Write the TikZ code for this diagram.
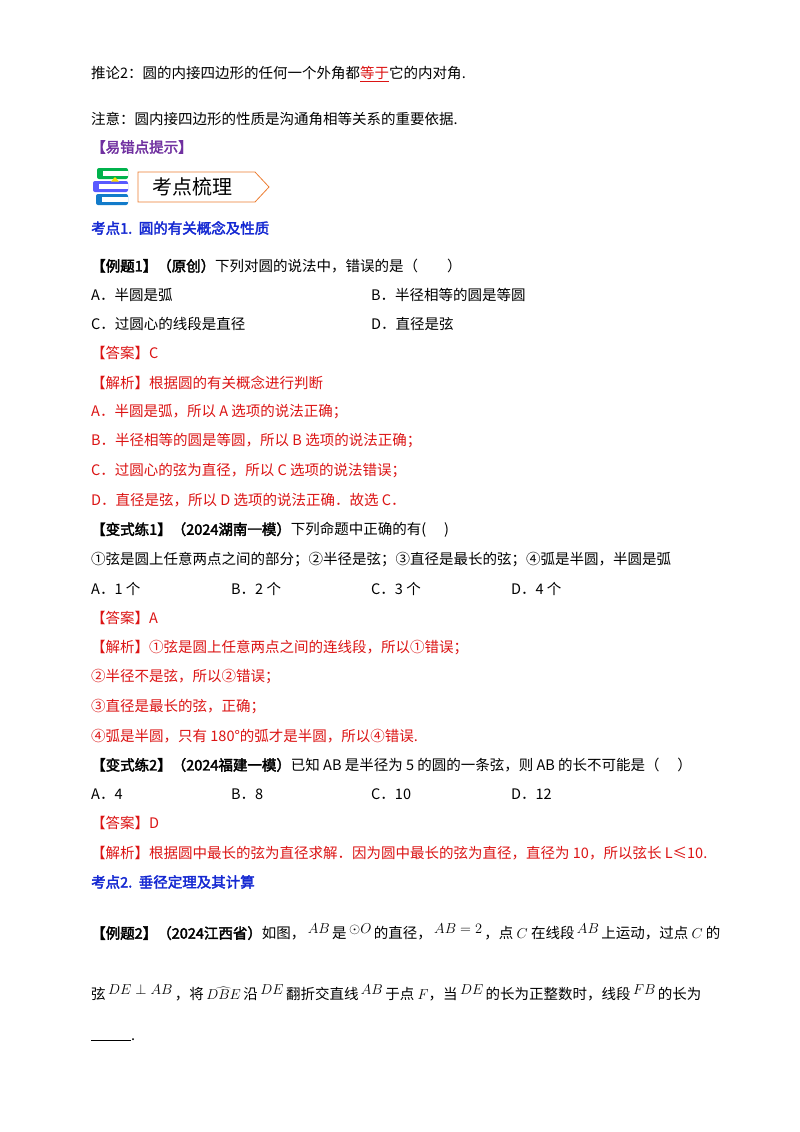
\documentclass[tikz,border=0pt]{standalone}
\usepackage{fontspec}
\setmainfont{Noto Sans CJK SC}[AutoFakeBold=2.5]
\definecolor{myred}{RGB}{220,20,20}
\definecolor{myblue}{RGB}{20,40,210}
\definecolor{mypurple}{RGB}{112,48,160}
\definecolor{myorange}{RGB}{237,125,49}
\newcommand{\mth}[1]{\,\raisebox{5bp}{$#1$}\,}
\begin{document}
\begin{tikzpicture}[x=1bp,y=-1bp,
 t/.style={anchor=west,inner sep=0,font=\fontsize{14.5bp}{17bp}\selectfont},
 r/.style={t,text=myred},
 bl/.style={t,text=myblue,font=\fontsize{14.5bp}{17bp}\selectfont\bfseries},
 book/.style={rounded corners=2,line width=0}]
\useasboundingbox (0,0) rectangle (800,1132);
\fill[white] (0,0) rectangle (800,1132);
\node[t] (l1) at (91,74) {推论2：圆的内接四边形的任何一个外角都\textcolor{myred}{\underline{等于}}它的内对角.};
\node[t] (l2) at (91,119) {注意：圆内接四边形的性质是沟通角相等关系的重要依据.};
\node[t,text=mypurple,font=\fontsize{14.5bp}{17bp}\selectfont\bfseries] (l3) at (91,147) {【易错点提示】};
% icon
\fill[book,fill=teal!60!green] (97,168) rectangle (128,179);
\fill[white] (103,171) rectangle (128,176);
\fill[book,fill=blue!65] (93,181) rectangle (128,192);
\fill[white] (99,184) rectangle (128,189);
\fill[book,fill=cyan!60!blue] (96,194) rectangle (128,205);
\fill[white] (102,197) rectangle (128,202);
\fill[yellow!80!orange] (115,177) -- (119,181.5) -- (111,181.5) -- cycle;
\draw[myorange,line width=0.8] (138,172) -- (255,172) -- (269,187) -- (255,202) -- (138,202) -- cycle;
\node[t,font=\fontsize{20bp}{22bp}\selectfont] (hd) at (152,187) {考点梳理};
\node[bl] (k1) at (91,228) {考点1.\ \ 圆的有关概念及性质};
\node[t] (e1) at (91,266) {\textbf{【例题1】（原创）}下列对圆的说法中，错误的是（\qquad ）};
\node[t] (e1a) at (91,295) {A．半圆是弧};
\node[t] (e1b) at (371,295) {B．半径相等的圆是等圆};
\node[t] (e1c) at (91,324) {C．过圆心的线段是直径};
\node[t] (e1d) at (371,324) {D．直径是弦};
\node[r] (a1) at (91,353) {【答案】C};
\node[r] (j1) at (91,383) {【解析】根据圆的有关概念进行判断};
\node[r] (j2) at (91,412) {A．半圆是弧，所以 A 选项的说法正确；};
\node[r] (j3) at (91,441) {B．半径相等的圆是等圆，所以 B 选项的说法正确；};
\node[r] (j4) at (91,471) {C．过圆心的弦为直径，所以 C 选项的说法错误；};
\node[r] (j5) at (91,500) {D．直径是弦，所以 D 选项的说法正确．故选 C．};
\node[t] (v1) at (91,530) {\textbf{【变式练1】（2024湖南一模）}下列命题中正确的有(\quad\ )};
\node[t] (v1s) at (91,560) {①弦是圆上任意两点之间的部分；②半径是弦；③直径是最长的弦；④弧是半圆，半圆是弧};
\node[t] (v1a) at (91,589) {A．1 个};
\node[t] (v1b) at (231,589) {B．2 个};
\node[t] (v1c) at (371,589) {C．3 个};
\node[t] (v1d) at (511,589) {D．4 个};
\node[r] (a2) at (91,618) {【答案】A};
\node[r] (k2) at (91,648) {【解析】①弦是圆上任意两点之间的连线段，所以①错误；};
\node[r] (k3) at (91,677) {②半径不是弦，所以②错误；};
\node[r] (k4) at (91,707) {③直径是最长的弦，正确；};
\node[r] (k5) at (91,736) {④弧是半圆，只有 180°的弧才是半圆，所以④错误.};
\node[t] (v2) at (91,765) {\textbf{【变式练2】（2024福建一模）}已知 AB 是半径为 5 的圆的一条弦，则 AB 的长不可能是（\quad\ ）};
\node[t] (v2a) at (91,794) {A．4};
\node[t] (v2b) at (231,794) {B．8};
\node[t] (v2c) at (371,794) {C．10};
\node[t] (v2d) at (511,794) {D．12};
\node[r] (a3) at (91,823) {【答案】D};
\node[r] (j6) at (91,853) {【解析】根据圆中最长的弦为直径求解．因为圆中最长的弦为直径，直径为 10，所以弦长 L≤10.};
\node[bl] (k6) at (91,882) {考点2.\ \ 垂径定理及其计算};
\node[t] (e2) at (91,932) {\textbf{【例题2】（2024江西省）}如图，\mth{AB}是\mth{\odot O}的直径，\mth{AB=2}，点 $C$ 在线段\mth{AB}上运动，过点 $C$ 的};
\node[t] (e2b) at (91,993) {弦\mth{DE\perp AB}，将\,$\widehat{DBE}$\,沿\mth{DE}翻折交直线\mth{AB}于点 $F$，当\mth{DE}的长为正整数时，线段\mth{FB}的长为};
\node[t] (e2c) at (91,1040) {\rule{40bp}{0.5bp}.};
\end{tikzpicture}
\end{document}
